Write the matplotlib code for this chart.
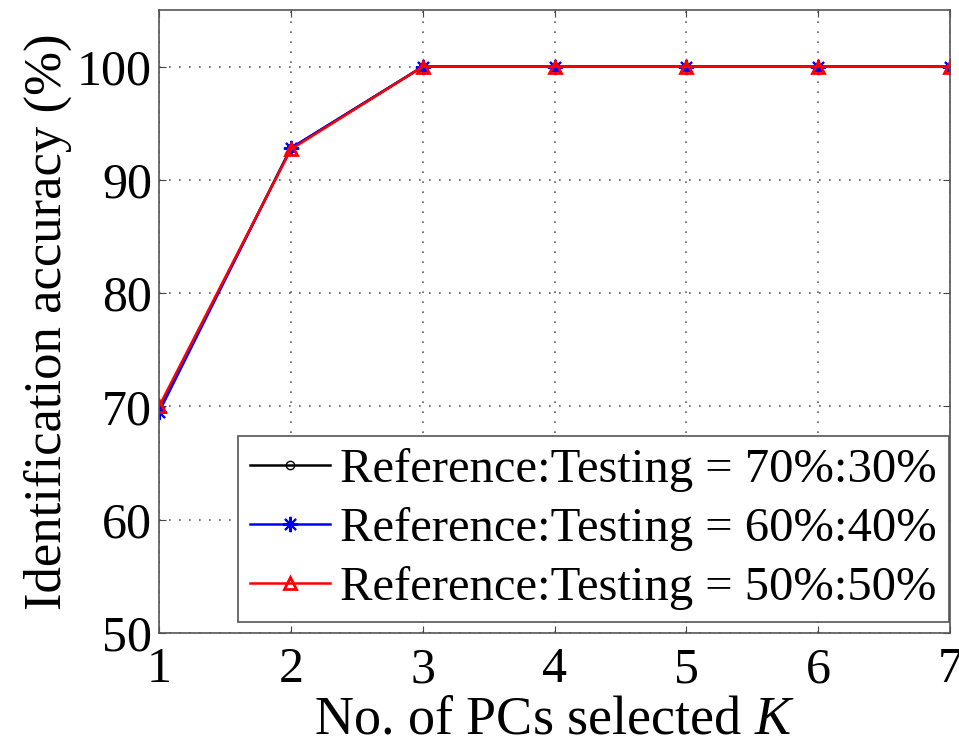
import matplotlib
matplotlib.use("Agg")
import matplotlib.pyplot as plt

# number of principal components selected
k_values = [1, 2, 3, 4, 5, 6, 7]

# identification accuracy (%) for each reference:testing split
acc_70_30 = [69.7, 92.8, 100, 100, 100, 100, 100]
acc_60_40 = [69.5, 92.8, 100, 100, 100, 100, 100]
acc_50_50 = [70.0, 92.7, 100, 100, 100, 100, 100]

labels = [
    "Reference:Testing = 70%:30%",
    "Reference:Testing = 60%:40%",
    "Reference:Testing = 50%:50%",
]

plt.rcParams["font.family"] = ["Liberation Serif", "DejaVu Serif"]
plt.rcParams["mathtext.fontset"] = "custom"
plt.rcParams["mathtext.it"] = "Liberation Serif:italic"

fig = plt.figure(figsize=(9.59, 7.39), dpi=100)
ax = fig.add_axes([0.1658, 0.1434, 0.825, 0.843])

ax.plot(k_values, acc_70_30, color="black", marker="o", markersize=6,
        markerfacecolor="none", linewidth=1.8, label=labels[0])
ax.plot(k_values, acc_60_40, color="blue", marker=(8, 2, 0), markersize=11,
        markeredgewidth=1.5, linewidth=1.8, label=labels[1])
ax.plot(k_values, acc_50_50, color="red", marker="^", markersize=8,
        markerfacecolor="none", markeredgewidth=2, linewidth=1.8, label=labels[2])

ax.set_xlim(1, 7)
ax.set_ylim(50, 105)
ax.set_xticks(k_values)
ax.set_yticks([50, 60, 70, 80, 90, 100])
ax.tick_params(direction="in", labelsize=36, length=5, top=True, right=True,
               color="#444444")
ax.tick_params(axis="y", pad=5)
ax.tick_params(axis="x", pad=10)
ax.grid(True, color="#333333", linestyle=(0, (1, 5)), linewidth=1.2, alpha=0.8)
for s in ax.spines.values():
    s.set_color("#555555")
    s.set_linewidth(1.2)

ax.set_xlabel("No. of PCs selected $K$", fontsize=39, labelpad=1)
ax.set_ylabel("Identification accuracy (%)", fontsize=38, labelpad=4)

leg = ax.legend(loc="lower right", bbox_to_anchor=(0.998, 0.018), fontsize=35,
                fancybox=False, framealpha=1, edgecolor="#555555",
                handlelength=1.65, handletextpad=0.2, borderaxespad=0.0,
                labelspacing=0.3, borderpad=0.25)
leg.get_frame().set_linewidth(1.2)

fig.savefig("out.png", dpi=100)
